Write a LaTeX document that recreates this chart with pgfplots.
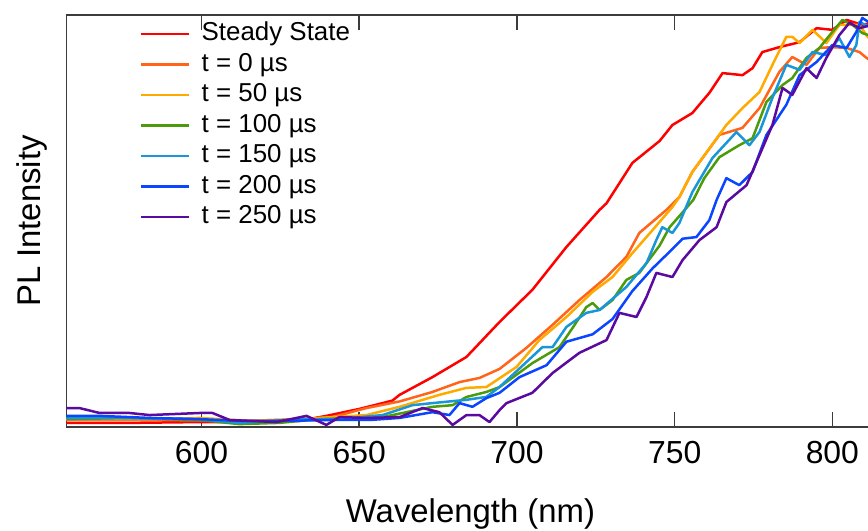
\documentclass[border=0pt]{standalone}
\usepackage{pgfplots}
\pgfplotsset{compat=1.18}
\usepackage{fontspec}
\setmainfont{Liberation Sans}
\definecolor{cSS}{RGB}{255,0,0}
\definecolor{cA}{RGB}{255,100,25}
\definecolor{cB}{RGB}{255,170,0}
\definecolor{cC}{RGB}{75,155,10}
\definecolor{cD}{RGB}{25,150,215}
\definecolor{cE}{RGB}{10,70,255}
\definecolor{cF}{RGB}{90,10,160}
\definecolor{frame}{RGB}{60,60,60}
\begin{document}
\begin{tikzpicture}
\useasboundingbox (-66.5bp,-104bp) rectangle (801.5bp,427bp);
\begin{axis}[
  scale only axis,
  width=801.5bp, height=412bp,
  xmin=557.2, xmax=811.3, ymin=0, ymax=1,
  axis x line*=box, axis y line*=left,
  axis line style={frame, line width=1.5bp},
  xtick={600,650,700,750,800}, ytick=\empty,
  major tick length=15bp,
  every tick/.style={frame, line width=1.5bp},
  /pgf/number format/assume math mode=true,
  /pgf/number format/1000 sep={},
  tick label style={font=\fontsize{32}{38}\selectfont},
  xticklabel style={yshift=-11bp},
  xlabel={Wavelength (nm)},
  xlabel style={font=\fontsize{33}{40}\selectfont, at={(axis description cs:0.504,0)}, anchor=base, yshift=-95bp},
  ylabel={PL Intensity},
  ylabel style={font=\fontsize{33}{40}\selectfont, at={(axis description cs:0,0.5)}, anchor=center, yshift=34.5bp},
  legend cell align=left,
  legend style={draw=none, fill=none, at={(axis description cs:0,1)}, anchor=north west, xshift=70bp, yshift=-3bp,
    font=\fontsize{26}{30}\selectfont, row sep=2.5bp, column sep=9bp,
    nodes={text height=18bp, text depth=5bp, inner sep=2.5bp}},
  legend image code/.code={\draw[#1] (0bp,0bp) -- (48bp,0bp);},
  every axis plot/.append style={line width=2.5bp, line join=round},
]
\addplot[cSS] coordinates {
(557.2,0.010)(577.2,0.010)(599.4,0.012)(618.4,0.012)(631.1,0.015)(639.6,0.027)(650.1,0.044)(660.5,0.064)(662.8,0.078)(673.2,0.121)(684.0,0.170)(694.5,0.255)(704.9,0.333)(715.7,0.437)(726.2,0.527)(728.4,0.543)(736.6,0.641)(745.2,0.694)(749.3,0.733)(755.6,0.762)(761.0,0.811)(765.2,0.859)(771.5,0.854)(774.7,0.871)(777.8,0.910)(783.2,0.922)(789.6,0.934)(795.0,0.968)(800.0,0.964)(804.5,0.988)(809.5,0.976)(812,0.980)};
\addlegendentry{Steady State}
\addplot[cA] coordinates {
(557.2,0.017)(583.5,0.017)(615.2,0.015)(631.1,0.019)(641.5,0.024)(652.3,0.046)(662.8,0.062)(673.2,0.085)(681.8,0.109)(688.1,0.119)(694.5,0.141)(703.0,0.192)(711.3,0.248)(719.8,0.308)(728.4,0.364)(734.7,0.413)(738.8,0.471)(747.4,0.527)(751.5,0.558)(755.6,0.619)(764.2,0.709)(771.5,0.726)(776.9,0.774)(783.2,0.862)(787.3,0.898)(791.8,0.879)(795.9,0.920)(800.0,0.922)(804.5,0.920)(808.6,0.910)(810.8,0.896)(812,0.890)};
\addlegendentry{t = 0 µs}
\addplot[cB] coordinates {
(557.2,0.019)(583.5,0.019)(599.4,0.022)(615.2,0.015)(631.1,0.019)(652.3,0.029)(662.8,0.049)(673.2,0.073)(675.4,0.078)(684.0,0.095)(690.3,0.097)(699.9,0.146)(707.1,0.211)(715.7,0.267)(724.0,0.328)(730.3,0.364)(736.6,0.422)(743.0,0.478)(749.3,0.534)(751.5,0.558)(755.6,0.619)(766.4,0.733)(771.5,0.774)(776.9,0.813)(781.0,0.879)(785.4,0.947)(787.3,0.947)(789.6,0.932)(793.7,0.964)(798.1,0.932)(802.2,0.976)(808.6,0.976)(810.8,0.951)(812,0.940)};
\addlegendentry{t = 50 µs}
\addplot[cC] coordinates {
(557.2,0.019)(577.2,0.022)(599.4,0.017)(612.0,0.007)(624.7,0.010)(637.4,0.019)(657.4,0.024)(673.2,0.049)(679.6,0.053)(684.0,0.073)(690.3,0.085)(694.5,0.097)(704.9,0.155)(713.5,0.194)(717.6,0.240)(722.0,0.291)(724.0,0.301)(726.2,0.284)(730.3,0.308)(734.7,0.357)(738.8,0.374)(741.1,0.398)(745.2,0.440)(748.4,0.485)(751.5,0.512)(755.9,0.551)(759.4,0.604)(764.2,0.655)(770.5,0.684)(774.7,0.701)(779.1,0.789)(784.2,0.830)(787.3,0.847)(791.8,0.896)(795.9,0.920)(800.0,0.959)(803.2,0.988)(806.4,0.976)(809.5,0.956)(812,0.950)};
\addlegendentry{t = 100 µs}
\addplot[cD] coordinates {
(557.2,0.022)(574.0,0.022)(599.4,0.019)(612.0,0.010)(631.1,0.019)(643.7,0.019)(657.4,0.029)(666.9,0.053)(673.2,0.058)(684.0,0.066)(690.3,0.073)(694.5,0.097)(708.1,0.194)(711.3,0.194)(715.7,0.243)(722.0,0.277)(726.2,0.284)(734.7,0.340)(741.1,0.398)(744.2,0.454)(746.1,0.485)(749.3,0.471)(751.5,0.495)(755.6,0.570)(762.0,0.653)(769.6,0.716)(773.7,0.684)(776.9,0.716)(781.0,0.799)(785.4,0.879)(789.6,0.867)(793.7,0.910)(798.1,0.903)(802.2,0.944)(805.4,0.898)(807.6,0.927)(808.6,0.983)(812,0.970)};
\addlegendentry{t = 150 µs}
\addplot[cE] coordinates {
(557.2,0.027)(567.7,0.027)(583.5,0.022)(599.4,0.019)(612.0,0.015)(627.9,0.015)(640.6,0.017)(653.3,0.017)(662.8,0.022)(673.2,0.036)(678.6,0.029)(681.8,0.058)(685.9,0.049)(690.3,0.070)(694.5,0.083)(700.8,0.121)(709.4,0.150)(715.7,0.207)(724.0,0.225)(730.3,0.262)(736.6,0.330)(743.0,0.385)(749.3,0.432)(752.5,0.457)(756.9,0.461)(761.0,0.502)(763.3,0.551)(766.4,0.604)(770.5,0.587)(774.7,0.619)(779.1,0.709)(785.4,0.782)(789.6,0.854)(795.0,0.886)(800.0,0.927)(804.5,0.920)(807.6,0.959)(809.5,0.993)(812,0.980)};
\addlegendentry{t = 200 µs}
\addplot[cF] coordinates {
(557.2,0.046)(561.3,0.046)(567.7,0.034)(577.2,0.034)(583.5,0.029)(599.4,0.034)(603.5,0.034)(608.9,0.017)(623.8,0.012)(633.3,0.027)(639.6,0.005)(643.7,0.024)(652.3,0.022)(662.8,0.024)(670.1,0.046)(675.4,0.036)(679.6,0.005)(684.0,0.029)(688.1,0.029)(691.3,0.012)(694.5,0.041)(696.7,0.058)(704.9,0.083)(711.3,0.131)(719.8,0.180)(728.4,0.211)(732.5,0.277)(737.9,0.267)(741.1,0.316)(744.2,0.374)(749.3,0.364)(752.5,0.405)(757.9,0.454)(763.3,0.485)(766.4,0.546)(772.8,0.587)(776.9,0.660)(781.0,0.733)(784.2,0.823)(787.3,0.806)(791.8,0.871)(795.0,0.847)(798.1,0.896)(802.2,0.951)(805.4,0.981)(808.6,0.968)(812,0.975)};
\addlegendentry{t = 250 µs}
\end{axis}
\end{tikzpicture}
\end{document}
